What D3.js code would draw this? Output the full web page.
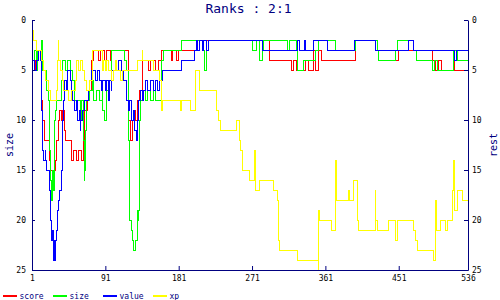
<!DOCTYPE html>
<html lang="en">
<head>
<meta charset="UTF-8">
<title>Ranks : 2:1</title>
<script src="https://d3js.org/d3.v7.min.js"></script>
<style>
  body { margin: 0; background: #fff; }
  svg { display: block; }
  .axis path, .axis line { stroke: #000080; }
  .axis text { fill: #000; font-size: 8px; font-family: 'DejaVu Sans Mono', monospace; }
  .series { fill: none; stroke-width: 1; shape-rendering: crispEdges; }
</style>
</head>
<body>
<div id="chart"></div>
<script>
// x = step number, y = rank (1 is best, drawn at the top)
const xTicks = [1, 91, 181, 271, 361, 451, 536];
const yTicks = [0, 5, 10, 15, 20, 25];
const seriesNames = ["score", "size", "value", "xp"];
const seriesColors = ["#ff0000", "#00ff00", "#0000ff", "#ffff00"];

// [step, rank] change points, rank is held until the next point
const scoreSteps = [[1,5],[5,4],[9,3],[12,4],[13,8],[14,10],[16,12],[21,12],[23,14],[24,15],[26,16],[28,15],[30,14],[31,12],[33,10],[35,9],[37,10],[39,9],[41,11],[42,12],[49,13],[50,14],[52,13],[56,14],[58,13],[62,14],[64,12],[65,10],[66,9],[69,8],[72,7],[74,4],[76,3],[82,4],[85,3],[90,4],[93,3],[97,4],[99,3],[119,7],[120,10],[122,12],[124,10],[126,9],[128,10],[130,8],[133,7],[136,4],[144,5],[146,4],[152,5],[156,4],[160,3],[172,4],[174,3],[178,4],[181,3],[203,2],[292,4],[319,5],[322,4],[326,5],[336,4],[340,5],[347,3],[349,5],[352,3],[356,4],[398,2],[425,3],[426,4],[451,3],[493,4],[496,5],[500,4],[503,5],[518,4],[520,5],[536,5]];
const sizeSteps = [[1,7],[2,4],[4,3],[6,5],[8,3],[11,4],[13,2],[14,5],[19,7],[21,8],[23,13],[24,16],[25,18],[26,15],[27,17],[28,12],[29,10],[30,9],[31,8],[37,6],[39,4],[42,5],[45,4],[48,5],[51,6],[53,8],[60,10],[62,8],[64,12],[65,16],[66,15],[67,11],[68,8],[72,7],[75,6],[77,8],[80,7],[84,8],[87,7],[88,9],[90,10],[92,7],[95,6],[99,3],[115,4],[117,5],[119,8],[120,12],[121,20],[123,21],[124,22],[126,23],[128,22],[130,19],[131,20],[132,19],[133,10],[134,8],[136,7],[140,8],[143,7],[146,8],[150,7],[153,8],[160,4],[162,3],[185,2],[211,3],[213,5],[215,3],[217,2],[271,3],[276,2],[280,4],[284,3],[285,2],[314,3],[317,2],[325,3],[327,5],[334,4],[349,3],[352,2],[373,3],[398,2],[425,3],[426,4],[447,3],[450,2],[469,3],[473,4],[493,5],[495,4],[498,5],[518,3],[523,4],[536,4]];
const valueSteps = [[1,5],[2,4],[4,5],[7,4],[9,3],[11,4],[13,9],[14,13],[15,14],[17,13],[18,14],[19,15],[23,17],[24,20],[25,22],[26,21],[27,24],[28,22],[29,24],[30,22],[31,21],[32,19],[33,18],[35,17],[37,15],[38,13],[39,10],[40,8],[41,6],[43,7],[45,5],[48,6],[50,7],[51,8],[53,9],[55,8],[57,10],[59,9],[60,11],[61,10],[63,9],[66,8],[70,7],[72,6],[74,5],[79,6],[81,5],[84,6],[86,7],[88,6],[91,7],[93,6],[95,8],[96,6],[98,7],[99,5],[107,4],[111,5],[113,6],[117,8],[119,9],[121,8],[123,10],[125,9],[127,11],[129,12],[131,10],[132,8],[134,7],[136,8],[138,7],[140,6],[143,7],[146,6],[150,7],[152,6],[155,7],[157,6],[161,5],[185,4],[200,3],[203,2],[204,3],[206,2],[210,3],[212,2],[215,3],[217,2],[284,3],[327,2],[329,3],[335,2],[337,3],[347,2],[363,3],[397,2],[423,3],[463,2],[469,3],[519,4],[522,3],[536,3]];
const xpSteps = [[1,2],[2,1],[3,2],[7,3],[13,4],[15,5],[17,6],[21,7],[24,8],[31,7],[32,4],[33,2],[34,4],[36,5],[38,6],[40,7],[46,8],[50,7],[54,6],[56,4],[58,5],[60,4],[63,5],[66,6],[68,7],[72,6],[75,3],[87,5],[89,4],[91,5],[93,4],[95,5],[99,6],[101,5],[103,4],[105,5],[110,6],[112,5],[131,4],[136,3],[137,4],[150,5],[158,6],[160,9],[161,8],[183,9],[185,8],[195,9],[202,5],[207,7],[228,9],[230,10],[232,11],[252,10],[256,12],[257,13],[259,15],[268,16],[274,13],[275,17],[280,16],[297,17],[302,18],[304,22],[305,23],[327,24],[352,25],[353,19],[354,20],[369,21],[373,18],[374,14],[375,18],[389,17],[391,18],[395,16],[401,20],[402,21],[422,17],[423,20],[425,21],[438,20],[447,22],[449,20],[469,21],[472,22],[474,23],[494,24],[496,18],[497,21],[502,20],[508,21],[511,20],[517,17],[518,14],[519,19],[523,17],[529,18],[536,18]];

const allSeries = [scoreSteps, sizeSteps, valueSteps, xpSteps];

const W = 500, H = 300;
const svg = d3.select("#chart").append("svg")
    .attr("width", W)
    .attr("height", H);

const x = d3.scaleLinear().domain([1, 536]).range([32, 468]);
const y = d3.scaleLinear().domain([0, 25]).range([20, 270]);

// title
svg.append("text")
    .attr("x", 248.5)
    .attr("y", 13)
    .attr("text-anchor", "middle")
    .attr("fill", "#000080")
    .style("font", "13px 'DejaVu Sans Mono', monospace")
    .text("Ranks : 2:1");

// series lines
const line = d3.line()
    .x(d => x(d[0]))
    .y(d => y(d[1]))
    .curve(d3.curveStepAfter);

allSeries.forEach((s, i) => {
    svg.append("path")
        .attr("class", "series")
        .attr("stroke", seriesColors[i])
        .attr("d", line(s));
});

// axes
svg.append("g").attr("class", "axis")
    .attr("transform", "translate(32,0)")
    .call(d3.axisLeft(y).tickValues(yTicks).tickSizeInner(-3).tickSizeOuter(0).tickPadding(6));

svg.append("g").attr("class", "axis")
    .attr("transform", "translate(468,0)")
    .call(d3.axisRight(y).tickValues(yTicks).tickSizeInner(-4).tickSizeOuter(0).tickPadding(4));

svg.append("g").attr("class", "axis")
    .attr("transform", "translate(0,270)")
    .call(d3.axisBottom(x).tickValues(xTicks).tickSizeInner(-4).tickSizeOuter(0).tickPadding(5));

// axis titles
svg.append("text")
    .attr("transform", "translate(9,145) rotate(-90)")
    .attr("text-anchor", "middle")
    .attr("dominant-baseline", "central")
    .attr("fill", "#000080")
    .style("font", "10px 'DejaVu Sans Mono', monospace")
    .text("size");

svg.append("text")
    .attr("transform", "translate(493,145) rotate(-90)")
    .attr("text-anchor", "middle")
    .attr("dominant-baseline", "central")
    .attr("fill", "#000080")
    .style("font", "10px 'DejaVu Sans Mono', monospace")
    .text("rest");

// legend
const legend = svg.append("g").attr("transform", "translate(0,296)");
seriesNames.forEach((name, i) => {
    const g = legend.append("g").attr("transform", `translate(${i * 50},0)`);
    g.append("line")
        .attr("x1", 3).attr("x2", 17)
        .attr("y1", 0).attr("y2", 0)
        .attr("stroke", seriesColors[i])
        .attr("stroke-width", 2);
    g.append("text")
        .attr("x", 19.5)
        .attr("y", 2.5)
        .attr("fill", "#000080")
        .style("font", "8px 'DejaVu Sans Mono', monospace")
        .text(name);
});
</script>
</body>
</html>
